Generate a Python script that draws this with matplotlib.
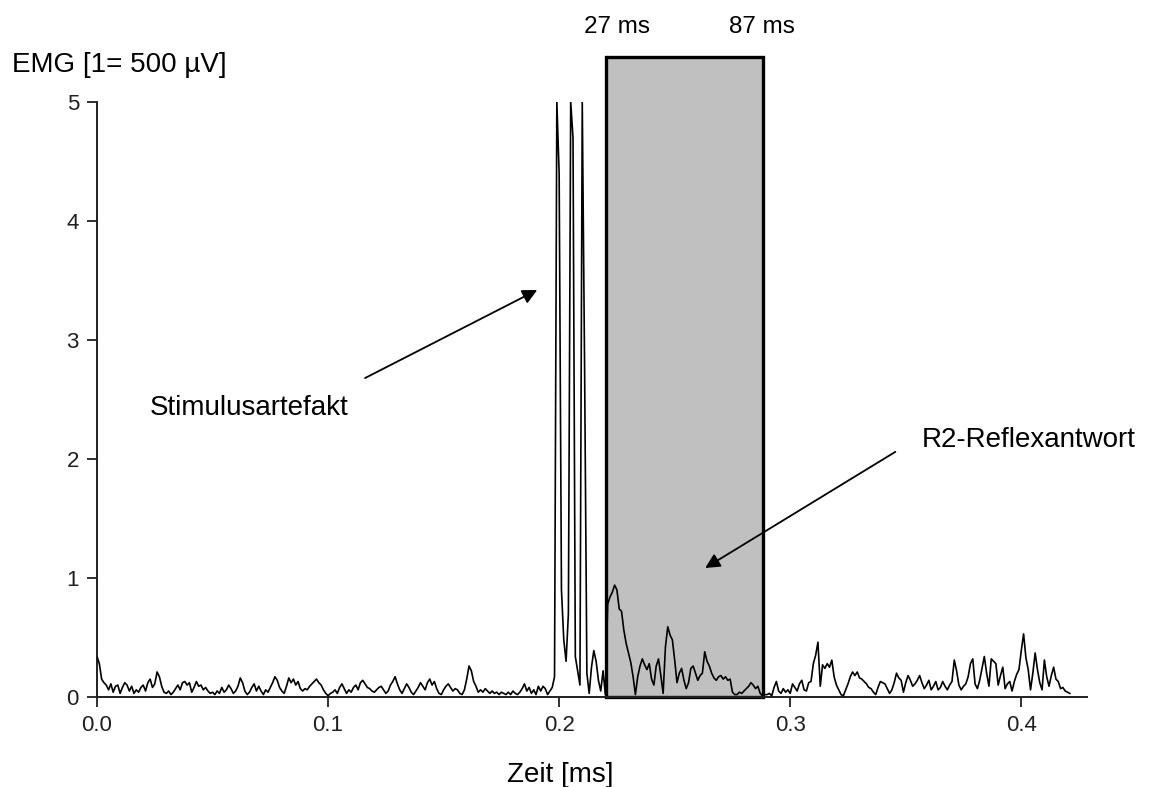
import numpy as np
import matplotlib.pyplot as plt
from matplotlib.patches import Rectangle

plt.rcParams['font.family'] = ['Liberation Sans', 'DejaVu Sans']

# sampling step of the EMG trace (x axis units)
dt = 0.001

# rectified EMG trace, one value per sample, in units of 500 uV
emg_baseline = [
    0.34, 0.28, 0.15, 0.12, 0.10, 0.06, 0.11, 0.04, 0.09, 0.10,
    0.03, 0.08, 0.12, 0.10, 0.05, 0.09, 0.03, 0.06, 0.04, 0.08,
    0.10, 0.05, 0.12, 0.15, 0.08, 0.11, 0.21, 0.17, 0.09, 0.04,
    0.03, 0.05, 0.02, 0.04, 0.07, 0.10, 0.06, 0.12, 0.13, 0.10,
    0.12, 0.04, 0.08, 0.13, 0.09, 0.10, 0.06, 0.08, 0.05, 0.03,
    0.04, 0.02, 0.05, 0.03, 0.08, 0.04, 0.06, 0.10, 0.07, 0.03,
    0.05, 0.09, 0.16, 0.12, 0.05, 0.02, 0.04, 0.08, 0.11, 0.05,
    0.09, 0.05, 0.02, 0.06, 0.04, 0.08, 0.12, 0.17, 0.14, 0.08,
    0.05, 0.03, 0.09, 0.16, 0.12, 0.15, 0.10, 0.13, 0.07, 0.05,
    0.07, 0.06, 0.09, 0.11, 0.13, 0.15, 0.12, 0.10, 0.06, 0.03,
    0.01, 0.03, 0.04, 0.06, 0.03, 0.08, 0.11, 0.07, 0.03, 0.06,
    0.04, 0.08, 0.10, 0.06, 0.12, 0.14, 0.11, 0.08, 0.07, 0.05,
    0.04, 0.06, 0.08, 0.09, 0.06, 0.03, 0.05, 0.10, 0.13, 0.17,
    0.11, 0.06, 0.03, 0.07, 0.11, 0.08, 0.04, 0.02, 0.05, 0.08,
    0.12, 0.09, 0.06, 0.12, 0.15, 0.10, 0.13, 0.07, 0.03, 0.02,
    0.06, 0.09, 0.11, 0.08, 0.05, 0.07, 0.06, 0.03, 0.02, 0.06,
    0.15, 0.26, 0.22, 0.13, 0.09, 0.04, 0.06, 0.04, 0.07, 0.05,
    0.03, 0.05, 0.03, 0.04, 0.02, 0.04, 0.03, 0.02, 0.04, 0.02,
    0.05, 0.03, 0.02, 0.04, 0.07, 0.11, 0.05, 0.08, 0.03, 0.06,
    0.02, 0.09, 0.05, 0.09, 0.07, 0.02, 0.05, 0.08, 0.17,
]
emg_stimulus = [
    5.00, 4.40, 0.90, 0.48, 0.30, 0.70, 5.00, 4.70, 0.34, 0.22,
    0.10, 5.00, 2.80, 0.20, 0.03, 0.25, 0.39, 0.30, 0.14, 0.05,
    0.22, 0.02,
]
emg_response = [
    0.78, 0.84, 0.88, 0.94, 0.90, 0.74, 0.72, 0.56, 0.45, 0.37,
    0.29, 0.17, 0.02, 0.17, 0.26, 0.32, 0.27, 0.23, 0.28, 0.15,
    0.10, 0.26, 0.32, 0.18, 0.03, 0.42, 0.59, 0.52, 0.48, 0.31,
    0.12, 0.20, 0.24, 0.14, 0.07, 0.12, 0.24, 0.26, 0.20, 0.14,
    0.18, 0.20, 0.38, 0.30, 0.26, 0.20, 0.16, 0.14, 0.17, 0.18,
    0.15, 0.17, 0.14, 0.15, 0.04, 0.02, 0.02, 0.04, 0.03, 0.05,
    0.07, 0.09, 0.12, 0.10, 0.07, 0.09, 0.03, 0.01, 0.02,
]
emg_late = [
    0.02, 0.03, 0.01, 0.08, 0.13, 0.05, 0.03, 0.07, 0.04, 0.06,
    0.03, 0.11, 0.08, 0.05, 0.11, 0.14, 0.06, 0.05, 0.12, 0.13,
    0.28, 0.35, 0.46, 0.09, 0.27, 0.24, 0.28, 0.25, 0.31, 0.17,
    0.10, 0.06, 0.02, 0.01, 0.06, 0.11, 0.17, 0.21, 0.18, 0.21,
    0.16, 0.15, 0.13, 0.11, 0.08, 0.07, 0.04, 0.02, 0.08, 0.13,
    0.12, 0.11, 0.07, 0.03, 0.06, 0.12, 0.20, 0.16, 0.14, 0.04,
    0.12, 0.18, 0.14, 0.09, 0.11, 0.14, 0.18, 0.12, 0.07, 0.10,
    0.14, 0.06, 0.09, 0.13, 0.06, 0.08, 0.13, 0.09, 0.06, 0.10,
    0.13, 0.31, 0.22, 0.10, 0.06, 0.09, 0.11, 0.17, 0.28, 0.32,
    0.11, 0.07, 0.14, 0.24, 0.34, 0.20, 0.09, 0.32, 0.30, 0.28,
    0.10, 0.18, 0.25, 0.07, 0.11, 0.13, 0.05, 0.13, 0.19, 0.23,
    0.39, 0.53, 0.33, 0.23, 0.06, 0.20, 0.37, 0.23, 0.12, 0.06,
    0.31, 0.17, 0.09, 0.18, 0.25, 0.15, 0.13, 0.07, 0.08, 0.05,
    0.04, 0.03,
]

# R2 analysis window and its labels
window_start = 0.2203
window_end = 0.2883
window_top = 5.38
window_labels = ['27 ms', '87 ms']
window_label_x = [0.2251, 0.2879]

xticks = [0.0, 0.1, 0.2, 0.3, 0.4]
yticks = [0, 1, 2, 3, 4, 5]

emg = np.array(emg_baseline + emg_stimulus + emg_response + emg_late)
t = np.arange(len(emg)) * dt

fig = plt.figure(figsize=(11.59, 7.87), dpi=100)
ax = fig.add_axes([0.0837, 0.1144, 0.8545, 0.756])

ax.add_patch(Rectangle((window_start, 0), window_end - window_start, window_top,
                       facecolor='#c0c0c0', edgecolor='black', lw=2.4,
                       clip_on=False, zorder=1))
ax.plot(t, emg, color='black', lw=1.2, zorder=3)

ax.set_xlim(0, 0.4286)
ax.set_ylim(0, 5)
ax.set_xticks(xticks)
ax.set_xticklabels([f'{v:.1f}' for v in xticks])
ax.set_yticks(yticks)
for side in ['top', 'right']:
    ax.spines[side].set_visible(False)
for side in ['left', 'bottom']:
    ax.spines[side].set_linewidth(1.4)
    ax.spines[side].set_color('#202020')
ax.tick_params(direction='out', length=7, width=1.3, labelsize=16,
               colors='#202020', pad=6)

for lbl, x in zip(window_labels, window_label_x):
    ax.text(x, 5.63, lbl, ha='center', va='center', fontsize=17.5,
            clip_on=False)

ax.text(-0.0368, 5.31, 'EMG [1= 500 µV]', ha='left', va='center',
        fontsize=20, clip_on=False)
ax.text(0.2004, -0.655, 'Zeit [ms]', ha='center', va='center',
        fontsize=20, clip_on=False)

arrow = dict(arrowstyle='-|>', color='black', lw=1.3, mutation_scale=22,
             shrinkA=0, shrinkB=0)
ax.annotate('', xy=(0.1905, 3.42), xytext=(0.116, 2.68), arrowprops=arrow)
ax.annotate('', xy=(0.2632, 1.084), xytext=(0.3455, 2.06), arrowprops=arrow)
ax.text(0.0229, 2.43, 'Stimulusartefakt', ha='left', va='center',
        fontsize=20)
ax.text(0.3571, 2.16, 'R2-Reflexantwort', ha='left', va='center',
        fontsize=20, clip_on=False)

fig.savefig('out.png', dpi=100)
